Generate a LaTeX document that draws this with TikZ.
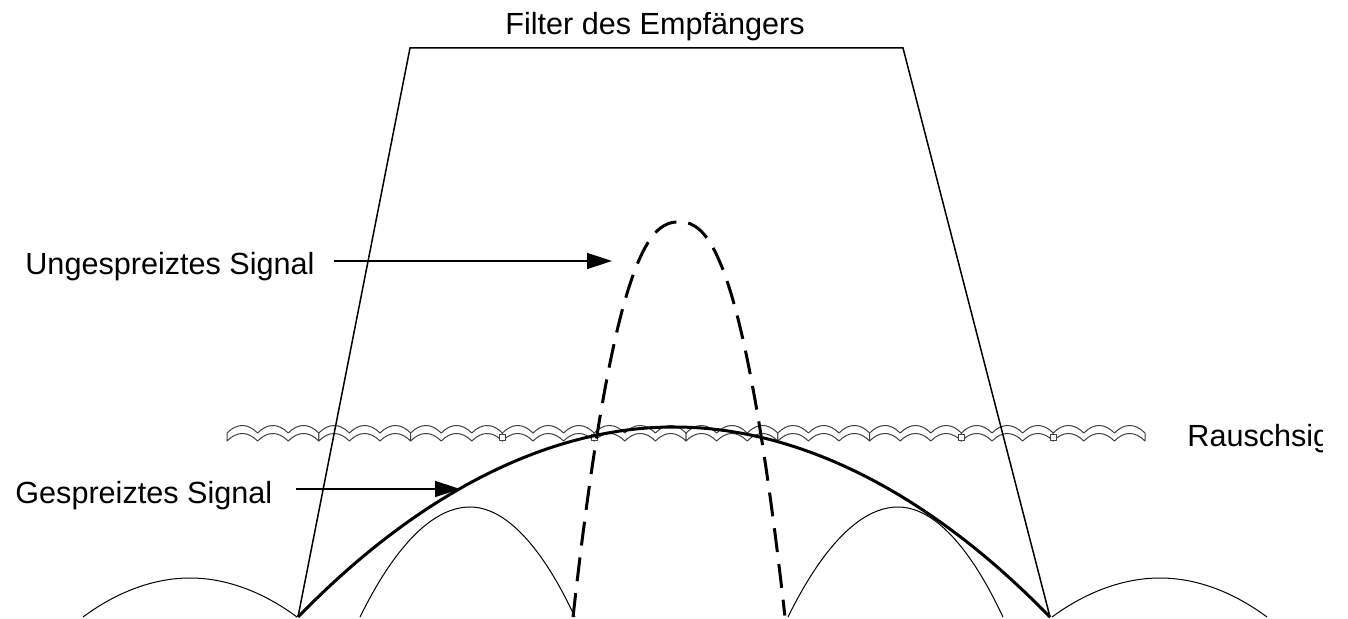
\documentclass[tikz,border=0pt]{standalone}
\usepackage{fontspec}
\setmainfont{Liberation Sans}
\usetikzlibrary{arrows.meta, positioning}

\begin{document}
\begin{tikzpicture}[x=0.5pt, y=-0.5pt, >={Triangle[length=12.5pt, width=8pt]},
    textlabel/.style={inner sep=0pt, font=\fontsize{15.3}{18}\selectfont},
    filterline/.style={line width=0.75pt},
    spreadsig/.style={line width=1.5pt},
    unspreadsig/.style={line width=1.5pt, dash pattern=on 12pt off 6pt},
    sidelobe/.style={line width=0.5pt},
    noiseband/.style={draw=black!75, fill=white, line width=0.5pt, line join=round},
    sigarrow/.style={->, line width=0.75pt}]
    \useasboundingbox (0,0) rectangle (1348,619);
    \clip (0,0) rectangle (1348,619);
    % Noise band
    \foreach \s in {0,...,9}{
        \draw[noiseband] ({227+91.8*\s},433)
            \foreach \h in {1,2,3}{ .. controls +(10,-10) and +(-10,-10) .. ++(30.6,0) }
            -- ++(0,8)
            \foreach \h in {1,2,3}{ .. controls +(-10,-10) and +(10,-10) .. ++(-30.6,0) }
            -- cycle;
    }
    \foreach \bx in {502.4, 594.2, 961.4, 1053.2}
        \draw[noiseband] ({\bx-3},435) rectangle ({\bx+3},441);
    % Side lobes
    \draw[sidelobe] (83,617) parabola bend (190,578) (297,617);
    \draw[sidelobe] (360,617) parabola bend (470,507) (575,617);
    \draw[sidelobe] (788,617) parabola bend (898,507) (1003,617);
    \draw[sidelobe] (1052,617) parabola bend (1160,578) (1267,617);
    % Spread signal
    \draw[spreadsig] (298,617) parabola bend (674,427) (1050,617);
    % Unspread signal
    \draw[unspreadsig] plot[domain=-1:1, samples=100, smooth]
        ({679+106*\x}, {617-395*(1-abs(\x)^2.4)});
    % Receiver filter
    \coordinate (fbl) at (298,617);
    \coordinate (ftl) at (410,48);
    \coordinate (ftr) at (903,48);
    \coordinate (fbr) at (1050,617);
    \draw[filterline] (fbl) -- (ftl) -- (ftr) -- (fbr);
    % Labels
    \node[textlabel, anchor=base] (filtertext) at (655,35) {Filter des Empfängers};
    \node[textlabel, anchor=base west] (ungtext) at (25,275) {Ungespreiztes Signal};
    \node[textlabel, anchor=base west] (gesptext) at (15,503) {Gespreiztes Signal};
    \begin{scope}
        \clip (0,0) rectangle (1322,619);
        \node[textlabel, anchor=base west] (rauschtext) at (1187,447) {Rauschsig};
    \end{scope}
    % Arrows
    \coordinate (ungtip) at (612,261);
    \coordinate (gesptip) at (460,489);
    \draw[sigarrow] (ungtext.east |- ungtip) ++(19,0) -- (ungtip);
    \draw[sigarrow] (gesptext.east |- gesptip) ++(23,0) -- (gesptip);
\end{tikzpicture}
\end{document}
